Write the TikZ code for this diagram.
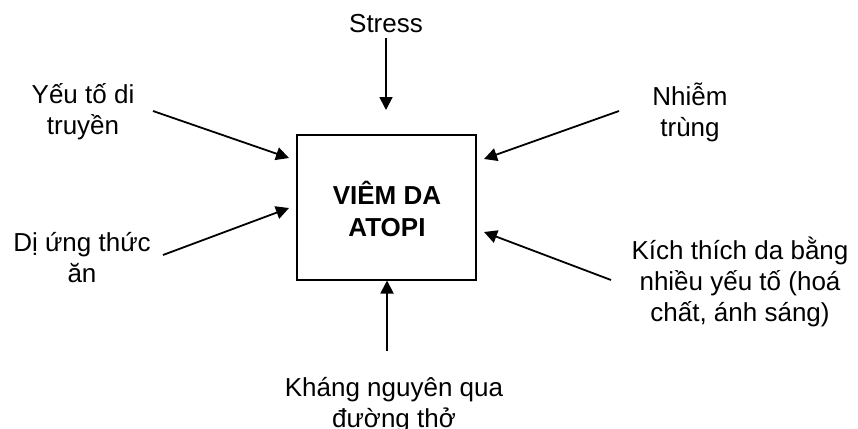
\documentclass[tikz,border=0pt]{standalone}
\usepackage{fontspec}
\setmainfont{Liberation Sans}
\usetikzlibrary{arrows.meta}
\begin{document}
\begin{tikzpicture}[x=1pt,y=-1pt,
  lbl/.style={align=center,font=\fontsize{26}{31}\selectfont,inner sep=0pt},
  arr/.style={line width=1.8pt,-{Triangle[length=13pt,width=13pt]}}]
\useasboundingbox (0,0) rectangle (858,428);
\node[draw,line width=2pt,minimum width=179pt,minimum height=145pt,inner sep=0pt] (box) at (386.5,207) {};
\node[lbl,font=\fontsize{26}{32}\selectfont\bfseries] (title) at (387,209) {VIÊM DA\\ATOPI};
\node[lbl] (stress) at (386,24) {Stress};
\node[lbl] (gen) at (83,112) {Yếu tố di\\truyền};
\node[lbl] (food) at (82,258) {Dị ứng thức\\ăn};
\node[lbl] (inf) at (690,112) {Nhiễm\\trùng};
\node[lbl] (chem) at (740,282) {Kích thích da bằng\\nhiều yếu tố (hoá\\chất, ánh sáng)};
\node[lbl] (air) at (394,405) {Kháng nguyên qua\\đường thở};
\coordinate (sT) at (386,38);  \coordinate (sH) at (386,110);
\coordinate (gT) at (153,111); \coordinate (gH) at (289,158);
\coordinate (fT) at (163,255); \coordinate (fH) at (289,208);
\coordinate (iT) at (619,111); \coordinate (iH) at (484,159);
\coordinate (cT) at (611,280); \coordinate (cH) at (484,232);
\coordinate (aT) at (387,351);
\draw[arr] (sT) -- (sH);
\draw[arr] (gT) -- (gH);
\draw[arr] (fT) -- (fH);
\draw[arr] (iT) -- (iH);
\draw[arr] (cT) -- (cH);
\draw[arr] (aT) -- (aT |- box.south);
\end{tikzpicture}
\end{document}
